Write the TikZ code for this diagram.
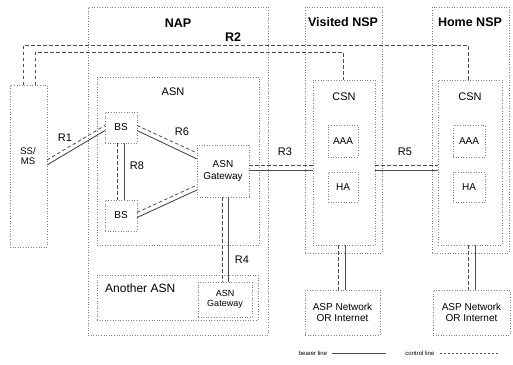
\documentclass[tikz,border=0pt]{standalone}
\usepackage{fontspec}
\setmainfont{Liberation Sans}
\usetikzlibrary{positioning}
\tikzset{
  zone/.style   = {draw=black!50, dotted, line width=0.6pt, anchor=north west,
                   inner sep=0pt, outer sep=0pt, align=center},
  unit/.style   = {zone, font=\fontsize{10}{11.5}\selectfont},
  ttl/.style    = {font=\fontsize{12.5}{14}\selectfont\bfseries, inner sep=1pt},
  lab/.style    = {font=\fontsize{11}{13}\selectfont, inner sep=1pt},
  bearer/.style = {draw=black!70, line width=0.9pt},
  ctrl/.style   = {draw=black!70, line width=0.8pt, dash pattern=on 3.5pt off 2.5pt},
}

\begin{document}
\begin{tikzpicture}[x=1pt, y=-1pt]
  \useasboundingbox (0,0) rectangle (513,364);
  % NAP with its two ASNs
  \node[zone, minimum width=180, minimum height=328] (nap) at (88,7) {};
  \node[ttl] (naplab) at (178,23) {NAP};
  \node[zone, minimum width=162, minimum height=168] (asn) at (97,77) {};
  \node[lab] (asnlab) at (173,92) {ASN};
  \node[unit, minimum width=32, minimum height=31] (bs1) at (105,112) {BS};
  \node[unit, minimum width=32, minimum height=31] (bs2) at (105,200) {BS};
  \node[unit, minimum width=52, minimum height=52] (gw) at (197,145) {ASN\\Gateway};
  \node[zone, minimum width=161, minimum height=45] (asn2) at (97,275) {};
  \node[lab, anchor=west, font=\fontsize{12}{14}\selectfont] (asn2lab) at (104,288) {Another ASN};
  \node[unit, minimum width=54, minimum height=35, font=\fontsize{9}{10.5}\selectfont] (gw2) at (198,282) {ASN\\Gateway};
  % subscriber station
  \node[zone, minimum width=37, minimum height=162] (ms) at (10,85) {};
  \node[lab, align=center, font=\fontsize{9.5}{10.5}\selectfont] (mslab) at (28,156) {SS/\\MS};
  % visited NSP
  \node[zone, minimum width=77, minimum height=246] (nspv) at (305,7) {};
  \node[ttl] (nspvlab) at (343,22) {Visited NSP};
  \node[zone, minimum width=62, minimum height=165] (csnv) at (313,80) {};
  \node[lab] (csnvlab) at (344,97) {CSN};
  \node[unit, minimum width=30, minimum height=32] (aaav) at (328,125) {AAA};
  \node[unit, minimum width=30, minimum height=30] (hav) at (328,172) {HA};
  \node[unit, minimum width=75, minimum height=45] (aspv) at (305,290) {ASP Network\\OR Internet};
  % home NSP
  \node[zone, minimum width=77, minimum height=246] (nsph) at (432,7) {};
  \node[ttl] (nsphlab) at (470,22) {Home NSP};
  \node[zone, minimum width=64, minimum height=165] (csnh) at (438,80) {};
  \node[lab] (csnhlab) at (470,97) {CSN};
  \node[unit, minimum width=32, minimum height=32] (aaah) at (453,125) {AAA};
  \node[unit, minimum width=32, minimum height=30] (hah) at (453,172) {HA};
  \node[unit, minimum width=77, minimum height=45] (asph) at (433,290) {ASP Network\\OR Internet};

  % reference points
  \draw[ctrl]   ([yshift=6pt]ms.east) -- ([yshift=2pt]bs1.west);
  \draw[bearer] ([yshift=1pt]ms.east) -- ([yshift=-3pt]bs1.west);
  \node[lab] (r1lab) at (65,138) {R1};
  \draw[ctrl]   ([yshift=2pt]bs1.east) -- ([yshift=18pt]gw.west);
  \draw[bearer] ([yshift=-3pt]bs1.east) -- ([yshift=12pt]gw.west);
  \draw[ctrl]   ([yshift=3pt]bs2.east) -- ([yshift=-14pt]gw.west);
  \draw[bearer] ([yshift=-2pt]bs2.east) -- ([yshift=-19pt]gw.west);
  \node[lab] (r6lab) at (182,132) {R6};
  \draw[ctrl]   ([xshift=-4pt]bs1.south) -- ([xshift=-4pt]bs2.north);
  \draw[bearer] ([xshift=3pt]bs1.south) -- ([xshift=3pt]bs2.north);
  \node[lab] (r8lab) at (137,166) {R8};
  \draw[ctrl]   ([yshift=6pt]gw.east) -- ([yshift=6pt]gw.east -| csnv.west);
  \draw[bearer] ([yshift=1pt]gw.east) -- ([yshift=1pt]gw.east -| csnv.west);
  \node[lab] (r3lab) at (285,152) {R3};
  \draw[ctrl]   ([yshift=-2.5pt]csnv.east) -- ([yshift=-2.5pt]csnh.west);
  \draw[bearer] ([yshift=-7.5pt]csnv.east) -- ([yshift=-7.5pt]csnh.west);
  \node[lab] (r5lab) at (405,152) {R5};
  \draw[ctrl]   ([xshift=-1pt]gw.south) -- ([xshift=-1pt]gw.south |- gw2.north);
  \draw[bearer] ([xshift=5pt]gw.south) -- ([xshift=5pt]gw.south |- gw2.north);
  \node[lab] (r4lab) at (242,260) {R4};
  % R2 runs over the top to both CSNs
  \draw[ctrl] ([xshift=-5.5pt]ms.north) -- ++(0,-40) -| ([xshift=-2pt]csnh.north);
  \draw[ctrl] ([xshift=6.5pt]ms.north) -- ++(0,-33) -| ([xshift=-1pt]csnv.north);
  \node[ttl] (r2lab) at (233,37) {R2};
  % CSN to ASP
  \draw[ctrl]   ([xshift=-6pt]csnv.south) -- ([xshift=-6pt]csnv.south |- aspv.north);
  \draw[bearer] ([xshift=1pt]csnv.south) -- ([xshift=1pt]csnv.south |- aspv.north);
  \draw[ctrl]   ([xshift=-2pt]csnh.south) -- ([xshift=-2pt]csnh.south |- asph.north);
  \draw[bearer] ([xshift=5pt]csnh.south) -- ([xshift=5pt]csnh.south |- asph.north);

  % legend
  \node[font=\fontsize{6}{7}\selectfont, inner sep=1pt] (blab) at (313,353) {bearer line};
  \draw[bearer, line width=0.6pt] ([xshift=4pt]blab.east) -- ++(54,0);
  \node[font=\fontsize{6}{7}\selectfont, inner sep=1pt] (clab) at (420,353) {control line};
  \draw[ctrl, line width=0.6pt, dash pattern=on 2pt off 2pt] ([xshift=4pt]clab.east) -- ++(58,0);
\end{tikzpicture}
\end{document}
